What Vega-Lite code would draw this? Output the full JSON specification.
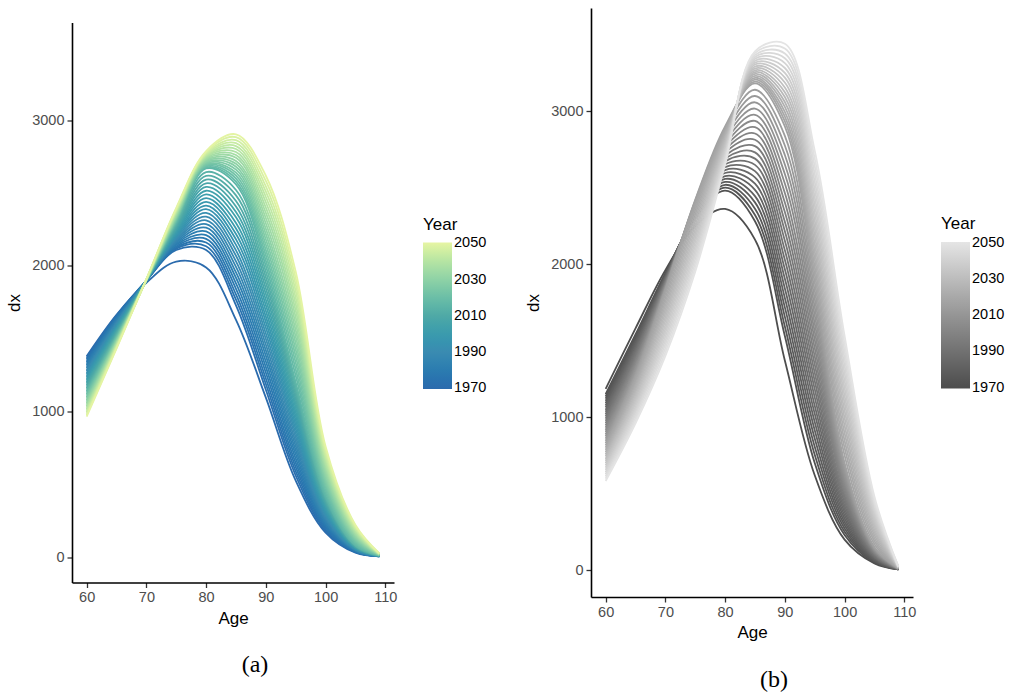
{
"$schema":"https://vega.github.io/schema/vega-lite/v6.json",
"background":"white",
"padding":{"left":5,"top":8,"right":5,"bottom":0},
"config":{"view":{"stroke":null},"font":"Liberation Sans",
"axis":{"domainColor":"#000000","domainWidth":1.6,"tickColor":"#333333","tickWidth":1.3,"tickSize":5,"labelColor":"#4d4d4d","labelFontSize":14.5,"labelFont":"Liberation Sans","labelPadding":3,"labelFlush":false,"titleColor":"#000000","titleFontSize":17,"titleFontWeight":"normal","titleFont":"Liberation Sans","titlePadding":6,"grid":false},
"axisY":{"titlePadding":8},
"legend":{"titleFontSize":17,"titleFontWeight":"normal","titleColor":"#000000","titleFont":"Liberation Sans","labelFont":"Liberation Sans","labelFontSize":14.5,"labelColor":"#000000","gradientLength":146.5,"gradientThickness":29,"gradientStrokeWidth":0,"labelOffset":11,"titlePadding":9,"labelOverlap":false},
"title":{"font":"Liberation Serif","fontSize":24,"fontWeight":"normal","color":"#000000","orient":"bottom","anchor":"middle","offset":27,"dx":22}},
"spacing":197,
"bounds":"flush",
"center":true,
"resolve":{"scale":{"color":"independent","x":"independent","y":"independent"},"legend":{"color":"independent"}},
"datasets":{
"a":[
{"year":1970,"age":60,"dx":1380},{"year":1970,"age":65,"dx":1665},{"year":1970,"age":70,"dx":1885},{"year":1970,"age":75,"dx":2030},{"year":1970,"age":80,"dx":1990},{"year":1970,"age":85,"dx":1630},{"year":1970,"age":90,"dx":1095},{"year":1970,"age":95,"dx":525},{"year":1970,"age":100,"dx":168},{"year":1970,"age":105,"dx":30},{"year":1970,"age":109,"dx":5},
{"year":1972,"age":60,"dx":1370},{"year":1972,"age":65,"dx":1660},{"year":1972,"age":70,"dx":1900},{"year":1972,"age":75,"dx":2110},{"year":1972,"age":80,"dx":2110},{"year":1972,"age":85,"dx":1730},{"year":1972,"age":90,"dx":1150},{"year":1972,"age":95,"dx":560},{"year":1972,"age":100,"dx":180},{"year":1972,"age":105,"dx":33},{"year":1972,"age":109,"dx":5},
{"year":1974,"age":60,"dx":1360},{"year":1974,"age":65,"dx":1654},{"year":1974,"age":70,"dx":1900},{"year":1974,"age":75,"dx":2119},{"year":1974,"age":80,"dx":2135},{"year":1974,"age":85,"dx":1768},{"year":1974,"age":90,"dx":1189},{"year":1974,"age":95,"dx":589},{"year":1974,"age":100,"dx":191},{"year":1974,"age":105,"dx":35},{"year":1974,"age":109,"dx":5},
{"year":1976,"age":60,"dx":1349},{"year":1976,"age":65,"dx":1647},{"year":1976,"age":70,"dx":1900},{"year":1976,"age":75,"dx":2127},{"year":1976,"age":80,"dx":2161},{"year":1976,"age":85,"dx":1805},{"year":1976,"age":90,"dx":1227},{"year":1976,"age":95,"dx":618},{"year":1976,"age":100,"dx":202},{"year":1976,"age":105,"dx":37},{"year":1976,"age":109,"dx":5},
{"year":1978,"age":60,"dx":1339},{"year":1978,"age":65,"dx":1641},{"year":1978,"age":70,"dx":1900},{"year":1978,"age":75,"dx":2136},{"year":1978,"age":80,"dx":2186},{"year":1978,"age":85,"dx":1843},{"year":1978,"age":90,"dx":1266},{"year":1978,"age":95,"dx":647},{"year":1978,"age":100,"dx":213},{"year":1978,"age":105,"dx":39},{"year":1978,"age":109,"dx":6},
{"year":1980,"age":60,"dx":1328},{"year":1980,"age":65,"dx":1635},{"year":1980,"age":70,"dx":1900},{"year":1980,"age":75,"dx":2145},{"year":1980,"age":80,"dx":2212},{"year":1980,"age":85,"dx":1881},{"year":1980,"age":90,"dx":1305},{"year":1980,"age":95,"dx":676},{"year":1980,"age":100,"dx":224},{"year":1980,"age":105,"dx":42},{"year":1980,"age":109,"dx":6},
{"year":1982,"age":60,"dx":1318},{"year":1982,"age":65,"dx":1628},{"year":1982,"age":70,"dx":1900},{"year":1982,"age":75,"dx":2153},{"year":1982,"age":80,"dx":2237},{"year":1982,"age":85,"dx":1919},{"year":1982,"age":90,"dx":1343},{"year":1982,"age":95,"dx":706},{"year":1982,"age":100,"dx":235},{"year":1982,"age":105,"dx":44},{"year":1982,"age":109,"dx":6},
{"year":1984,"age":60,"dx":1307},{"year":1984,"age":65,"dx":1622},{"year":1984,"age":70,"dx":1900},{"year":1984,"age":75,"dx":2162},{"year":1984,"age":80,"dx":2263},{"year":1984,"age":85,"dx":1956},{"year":1984,"age":90,"dx":1382},{"year":1984,"age":95,"dx":735},{"year":1984,"age":100,"dx":245},{"year":1984,"age":105,"dx":46},{"year":1984,"age":109,"dx":6},
{"year":1986,"age":60,"dx":1297},{"year":1986,"age":65,"dx":1615},{"year":1986,"age":70,"dx":1900},{"year":1986,"age":75,"dx":2170},{"year":1986,"age":80,"dx":2288},{"year":1986,"age":85,"dx":1994},{"year":1986,"age":90,"dx":1420},{"year":1986,"age":95,"dx":764},{"year":1986,"age":100,"dx":256},{"year":1986,"age":105,"dx":48},{"year":1986,"age":109,"dx":7},
{"year":1988,"age":60,"dx":1286},{"year":1988,"age":65,"dx":1609},{"year":1988,"age":70,"dx":1900},{"year":1988,"age":75,"dx":2179},{"year":1988,"age":80,"dx":2314},{"year":1988,"age":85,"dx":2032},{"year":1988,"age":90,"dx":1459},{"year":1988,"age":95,"dx":793},{"year":1988,"age":100,"dx":267},{"year":1988,"age":105,"dx":50},{"year":1988,"age":109,"dx":7},
{"year":1990,"age":60,"dx":1276},{"year":1990,"age":65,"dx":1603},{"year":1990,"age":70,"dx":1900},{"year":1990,"age":75,"dx":2188},{"year":1990,"age":80,"dx":2339},{"year":1990,"age":85,"dx":2070},{"year":1990,"age":90,"dx":1498},{"year":1990,"age":95,"dx":822},{"year":1990,"age":100,"dx":278},{"year":1990,"age":105,"dx":52},{"year":1990,"age":109,"dx":7},
{"year":1992,"age":60,"dx":1265},{"year":1992,"age":65,"dx":1596},{"year":1992,"age":70,"dx":1900},{"year":1992,"age":75,"dx":2196},{"year":1992,"age":80,"dx":2365},{"year":1992,"age":85,"dx":2107},{"year":1992,"age":90,"dx":1536},{"year":1992,"age":95,"dx":851},{"year":1992,"age":100,"dx":289},{"year":1992,"age":105,"dx":54},{"year":1992,"age":109,"dx":7},
{"year":1994,"age":60,"dx":1255},{"year":1994,"age":65,"dx":1590},{"year":1994,"age":70,"dx":1900},{"year":1994,"age":75,"dx":2205},{"year":1994,"age":80,"dx":2390},{"year":1994,"age":85,"dx":2145},{"year":1994,"age":90,"dx":1575},{"year":1994,"age":95,"dx":880},{"year":1994,"age":100,"dx":300},{"year":1994,"age":105,"dx":57},{"year":1994,"age":109,"dx":8},
{"year":1996,"age":60,"dx":1245},{"year":1996,"age":65,"dx":1584},{"year":1996,"age":70,"dx":1900},{"year":1996,"age":75,"dx":2214},{"year":1996,"age":80,"dx":2415},{"year":1996,"age":85,"dx":2183},{"year":1996,"age":90,"dx":1614},{"year":1996,"age":95,"dx":909},{"year":1996,"age":100,"dx":311},{"year":1996,"age":105,"dx":59},{"year":1996,"age":109,"dx":8},
{"year":1998,"age":60,"dx":1234},{"year":1998,"age":65,"dx":1577},{"year":1998,"age":70,"dx":1900},{"year":1998,"age":75,"dx":2222},{"year":1998,"age":80,"dx":2441},{"year":1998,"age":85,"dx":2220},{"year":1998,"age":90,"dx":1652},{"year":1998,"age":95,"dx":938},{"year":1998,"age":100,"dx":322},{"year":1998,"age":105,"dx":61},{"year":1998,"age":109,"dx":8},
{"year":2000,"age":60,"dx":1224},{"year":2000,"age":65,"dx":1571},{"year":2000,"age":70,"dx":1900},{"year":2000,"age":75,"dx":2231},{"year":2000,"age":80,"dx":2466},{"year":2000,"age":85,"dx":2258},{"year":2000,"age":90,"dx":1691},{"year":2000,"age":95,"dx":967},{"year":2000,"age":100,"dx":333},{"year":2000,"age":105,"dx":63},{"year":2000,"age":109,"dx":8},
{"year":2002,"age":60,"dx":1213},{"year":2002,"age":65,"dx":1565},{"year":2002,"age":70,"dx":1900},{"year":2002,"age":75,"dx":2240},{"year":2002,"age":80,"dx":2492},{"year":2002,"age":85,"dx":2296},{"year":2002,"age":90,"dx":1730},{"year":2002,"age":95,"dx":996},{"year":2002,"age":100,"dx":344},{"year":2002,"age":105,"dx":65},{"year":2002,"age":109,"dx":8},
{"year":2004,"age":60,"dx":1203},{"year":2004,"age":65,"dx":1558},{"year":2004,"age":70,"dx":1900},{"year":2004,"age":75,"dx":2248},{"year":2004,"age":80,"dx":2517},{"year":2004,"age":85,"dx":2334},{"year":2004,"age":90,"dx":1768},{"year":2004,"age":95,"dx":1026},{"year":2004,"age":100,"dx":355},{"year":2004,"age":105,"dx":67},{"year":2004,"age":109,"dx":9},
{"year":2006,"age":60,"dx":1192},{"year":2006,"age":65,"dx":1552},{"year":2006,"age":70,"dx":1900},{"year":2006,"age":75,"dx":2257},{"year":2006,"age":80,"dx":2543},{"year":2006,"age":85,"dx":2371},{"year":2006,"age":90,"dx":1807},{"year":2006,"age":95,"dx":1055},{"year":2006,"age":100,"dx":365},{"year":2006,"age":105,"dx":69},{"year":2006,"age":109,"dx":9},
{"year":2008,"age":60,"dx":1182},{"year":2008,"age":65,"dx":1545},{"year":2008,"age":70,"dx":1900},{"year":2008,"age":75,"dx":2265},{"year":2008,"age":80,"dx":2568},{"year":2008,"age":85,"dx":2409},{"year":2008,"age":90,"dx":1845},{"year":2008,"age":95,"dx":1084},{"year":2008,"age":100,"dx":376},{"year":2008,"age":105,"dx":71},{"year":2008,"age":109,"dx":9},
{"year":2010,"age":60,"dx":1171},{"year":2010,"age":65,"dx":1539},{"year":2010,"age":70,"dx":1900},{"year":2010,"age":75,"dx":2274},{"year":2010,"age":80,"dx":2594},{"year":2010,"age":85,"dx":2447},{"year":2010,"age":90,"dx":1884},{"year":2010,"age":95,"dx":1113},{"year":2010,"age":100,"dx":387},{"year":2010,"age":105,"dx":74},{"year":2010,"age":109,"dx":9},
{"year":2012,"age":60,"dx":1161},{"year":2012,"age":65,"dx":1533},{"year":2012,"age":70,"dx":1900},{"year":2012,"age":75,"dx":2283},{"year":2012,"age":80,"dx":2619},{"year":2012,"age":85,"dx":2485},{"year":2012,"age":90,"dx":1923},{"year":2012,"age":95,"dx":1142},{"year":2012,"age":100,"dx":398},{"year":2012,"age":105,"dx":76},{"year":2012,"age":109,"dx":10},
{"year":2014,"age":60,"dx":1150},{"year":2014,"age":65,"dx":1526},{"year":2014,"age":70,"dx":1900},{"year":2014,"age":75,"dx":2291},{"year":2014,"age":80,"dx":2645},{"year":2014,"age":85,"dx":2522},{"year":2014,"age":90,"dx":1961},{"year":2014,"age":95,"dx":1171},{"year":2014,"age":100,"dx":409},{"year":2014,"age":105,"dx":78},{"year":2014,"age":109,"dx":10},
{"year":2016,"age":60,"dx":1140},{"year":2016,"age":65,"dx":1520},{"year":2016,"age":70,"dx":1900},{"year":2016,"age":75,"dx":2300},{"year":2016,"age":80,"dx":2670},{"year":2016,"age":85,"dx":2560},{"year":2016,"age":90,"dx":2000},{"year":2016,"age":95,"dx":1200},{"year":2016,"age":100,"dx":420},{"year":2016,"age":105,"dx":80},{"year":2016,"age":109,"dx":10},
{"year":2018,"age":60,"dx":1130},{"year":2018,"age":65,"dx":1515},{"year":2018,"age":70,"dx":1901},{"year":2018,"age":75,"dx":2306},{"year":2018,"age":80,"dx":2677},{"year":2018,"age":85,"dx":2580},{"year":2018,"age":90,"dx":2036},{"year":2018,"age":95,"dx":1245},{"year":2018,"age":100,"dx":440},{"year":2018,"age":105,"dx":88},{"year":2018,"age":109,"dx":11},
{"year":2020,"age":60,"dx":1119},{"year":2020,"age":65,"dx":1510},{"year":2020,"age":70,"dx":1901},{"year":2020,"age":75,"dx":2312},{"year":2020,"age":80,"dx":2684},{"year":2020,"age":85,"dx":2601},{"year":2020,"age":90,"dx":2073},{"year":2020,"age":95,"dx":1289},{"year":2020,"age":100,"dx":460},{"year":2020,"age":105,"dx":96},{"year":2020,"age":109,"dx":12},
{"year":2022,"age":60,"dx":1109},{"year":2022,"age":65,"dx":1504},{"year":2022,"age":70,"dx":1902},{"year":2022,"age":75,"dx":2318},{"year":2022,"age":80,"dx":2691},{"year":2022,"age":85,"dx":2621},{"year":2022,"age":90,"dx":2109},{"year":2022,"age":95,"dx":1334},{"year":2022,"age":100,"dx":480},{"year":2022,"age":105,"dx":105},{"year":2022,"age":109,"dx":13},
{"year":2024,"age":60,"dx":1099},{"year":2024,"age":65,"dx":1499},{"year":2024,"age":70,"dx":1902},{"year":2024,"age":75,"dx":2324},{"year":2024,"age":80,"dx":2698},{"year":2024,"age":85,"dx":2641},{"year":2024,"age":90,"dx":2146},{"year":2024,"age":95,"dx":1379},{"year":2024,"age":100,"dx":500},{"year":2024,"age":105,"dx":113},{"year":2024,"age":109,"dx":14},
{"year":2026,"age":60,"dx":1089},{"year":2026,"age":65,"dx":1494},{"year":2026,"age":70,"dx":1903},{"year":2026,"age":75,"dx":2329},{"year":2026,"age":80,"dx":2705},{"year":2026,"age":85,"dx":2662},{"year":2026,"age":90,"dx":2182},{"year":2026,"age":95,"dx":1424},{"year":2026,"age":100,"dx":520},{"year":2026,"age":105,"dx":121},{"year":2026,"age":109,"dx":14},
{"year":2028,"age":60,"dx":1078},{"year":2028,"age":65,"dx":1489},{"year":2028,"age":70,"dx":1903},{"year":2028,"age":75,"dx":2335},{"year":2028,"age":80,"dx":2712},{"year":2028,"age":85,"dx":2682},{"year":2028,"age":90,"dx":2219},{"year":2028,"age":95,"dx":1468},{"year":2028,"age":100,"dx":540},{"year":2028,"age":105,"dx":129},{"year":2028,"age":109,"dx":15},
{"year":2030,"age":60,"dx":1068},{"year":2030,"age":65,"dx":1484},{"year":2030,"age":70,"dx":1904},{"year":2030,"age":75,"dx":2341},{"year":2030,"age":80,"dx":2719},{"year":2030,"age":85,"dx":2702},{"year":2030,"age":90,"dx":2255},{"year":2030,"age":95,"dx":1513},{"year":2030,"age":100,"dx":560},{"year":2030,"age":105,"dx":138},{"year":2030,"age":109,"dx":16},
{"year":2032,"age":60,"dx":1058},{"year":2032,"age":65,"dx":1479},{"year":2032,"age":70,"dx":1904},{"year":2032,"age":75,"dx":2347},{"year":2032,"age":80,"dx":2727},{"year":2032,"age":85,"dx":2722},{"year":2032,"age":90,"dx":2292},{"year":2032,"age":95,"dx":1558},{"year":2032,"age":100,"dx":580},{"year":2032,"age":105,"dx":146},{"year":2032,"age":109,"dx":17},
{"year":2034,"age":60,"dx":1047},{"year":2034,"age":65,"dx":1473},{"year":2034,"age":70,"dx":1905},{"year":2034,"age":75,"dx":2353},{"year":2034,"age":80,"dx":2734},{"year":2034,"age":85,"dx":2743},{"year":2034,"age":90,"dx":2328},{"year":2034,"age":95,"dx":1602},{"year":2034,"age":100,"dx":600},{"year":2034,"age":105,"dx":154},{"year":2034,"age":109,"dx":18},
{"year":2036,"age":60,"dx":1037},{"year":2036,"age":65,"dx":1468},{"year":2036,"age":70,"dx":1905},{"year":2036,"age":75,"dx":2359},{"year":2036,"age":80,"dx":2741},{"year":2036,"age":85,"dx":2763},{"year":2036,"age":90,"dx":2365},{"year":2036,"age":95,"dx":1647},{"year":2036,"age":100,"dx":620},{"year":2036,"age":105,"dx":162},{"year":2036,"age":109,"dx":19},
{"year":2038,"age":60,"dx":1027},{"year":2038,"age":65,"dx":1463},{"year":2038,"age":70,"dx":1906},{"year":2038,"age":75,"dx":2365},{"year":2038,"age":80,"dx":2748},{"year":2038,"age":85,"dx":2783},{"year":2038,"age":90,"dx":2401},{"year":2038,"age":95,"dx":1692},{"year":2038,"age":100,"dx":640},{"year":2038,"age":105,"dx":171},{"year":2038,"age":109,"dx":20},
{"year":2040,"age":60,"dx":1017},{"year":2040,"age":65,"dx":1458},{"year":2040,"age":70,"dx":1906},{"year":2040,"age":75,"dx":2371},{"year":2040,"age":80,"dx":2755},{"year":2040,"age":85,"dx":2804},{"year":2040,"age":90,"dx":2438},{"year":2040,"age":95,"dx":1737},{"year":2040,"age":100,"dx":660},{"year":2040,"age":105,"dx":179},{"year":2040,"age":109,"dx":21},
{"year":2042,"age":60,"dx":1006},{"year":2042,"age":65,"dx":1453},{"year":2042,"age":70,"dx":1907},{"year":2042,"age":75,"dx":2377},{"year":2042,"age":80,"dx":2762},{"year":2042,"age":85,"dx":2824},{"year":2042,"age":90,"dx":2474},{"year":2042,"age":95,"dx":1781},{"year":2042,"age":100,"dx":680},{"year":2042,"age":105,"dx":187},{"year":2042,"age":109,"dx":22},
{"year":2044,"age":60,"dx":996},{"year":2044,"age":65,"dx":1448},{"year":2044,"age":70,"dx":1907},{"year":2044,"age":75,"dx":2382},{"year":2044,"age":80,"dx":2769},{"year":2044,"age":85,"dx":2844},{"year":2044,"age":90,"dx":2511},{"year":2044,"age":95,"dx":1826},{"year":2044,"age":100,"dx":700},{"year":2044,"age":105,"dx":195},{"year":2044,"age":109,"dx":22},
{"year":2046,"age":60,"dx":986},{"year":2046,"age":65,"dx":1442},{"year":2046,"age":70,"dx":1908},{"year":2046,"age":75,"dx":2388},{"year":2046,"age":80,"dx":2776},{"year":2046,"age":85,"dx":2864},{"year":2046,"age":90,"dx":2547},{"year":2046,"age":95,"dx":1871},{"year":2046,"age":100,"dx":720},{"year":2046,"age":105,"dx":204},{"year":2046,"age":109,"dx":23},
{"year":2048,"age":60,"dx":975},{"year":2048,"age":65,"dx":1437},{"year":2048,"age":70,"dx":1909},{"year":2048,"age":75,"dx":2394},{"year":2048,"age":80,"dx":2783},{"year":2048,"age":85,"dx":2885},{"year":2048,"age":90,"dx":2584},{"year":2048,"age":95,"dx":1915},{"year":2048,"age":100,"dx":740},{"year":2048,"age":105,"dx":212},{"year":2048,"age":109,"dx":24},
{"year":2050,"age":60,"dx":965},{"year":2050,"age":65,"dx":1432},{"year":2050,"age":70,"dx":1909},{"year":2050,"age":75,"dx":2400},{"year":2050,"age":80,"dx":2790},{"year":2050,"age":85,"dx":2905},{"year":2050,"age":90,"dx":2620},{"year":2050,"age":95,"dx":1960},{"year":2050,"age":100,"dx":760},{"year":2050,"age":105,"dx":220},{"year":2050,"age":109,"dx":25}
],
"b":[
{"year":1970,"age":60,"dx":1185},{"year":1970,"age":65,"dx":1580},{"year":1970,"age":70,"dx":1960},{"year":1970,"age":75,"dx":2250},{"year":1970,"age":80,"dx":2360},{"year":1970,"age":85,"dx":2160},{"year":1970,"age":90,"dx":1370},{"year":1970,"age":95,"dx":620},{"year":1970,"age":100,"dx":200},{"year":1970,"age":105,"dx":45},{"year":1970,"age":109,"dx":5},
{"year":1972,"age":60,"dx":1150},{"year":1972,"age":65,"dx":1540},{"year":1972,"age":70,"dx":1940},{"year":1972,"age":75,"dx":2300},{"year":1972,"age":80,"dx":2480},{"year":1972,"age":85,"dx":2280},{"year":1972,"age":90,"dx":1530},{"year":1972,"age":95,"dx":700},{"year":1972,"age":100,"dx":230},{"year":1972,"age":105,"dx":50},{"year":1972,"age":109,"dx":5},
{"year":1974,"age":60,"dx":1135},{"year":1974,"age":65,"dx":1528},{"year":1974,"age":70,"dx":1935},{"year":1974,"age":75,"dx":2305},{"year":1974,"age":80,"dx":2499},{"year":1974,"age":85,"dx":2321},{"year":1974,"age":90,"dx":1592},{"year":1974,"age":95,"dx":754},{"year":1974,"age":100,"dx":251},{"year":1974,"age":105,"dx":55},{"year":1974,"age":109,"dx":5},
{"year":1976,"age":60,"dx":1121},{"year":1976,"age":65,"dx":1515},{"year":1976,"age":70,"dx":1930},{"year":1976,"age":75,"dx":2311},{"year":1976,"age":80,"dx":2518},{"year":1976,"age":85,"dx":2362},{"year":1976,"age":90,"dx":1655},{"year":1976,"age":95,"dx":807},{"year":1976,"age":100,"dx":273},{"year":1976,"age":105,"dx":59},{"year":1976,"age":109,"dx":6},
{"year":1978,"age":60,"dx":1106},{"year":1978,"age":65,"dx":1503},{"year":1978,"age":70,"dx":1925},{"year":1978,"age":75,"dx":2316},{"year":1978,"age":80,"dx":2537},{"year":1978,"age":85,"dx":2403},{"year":1978,"age":90,"dx":1717},{"year":1978,"age":95,"dx":861},{"year":1978,"age":100,"dx":294},{"year":1978,"age":105,"dx":64},{"year":1978,"age":109,"dx":6},
{"year":1980,"age":60,"dx":1092},{"year":1980,"age":65,"dx":1491},{"year":1980,"age":70,"dx":1920},{"year":1980,"age":75,"dx":2322},{"year":1980,"age":80,"dx":2556},{"year":1980,"age":85,"dx":2444},{"year":1980,"age":90,"dx":1779},{"year":1980,"age":95,"dx":915},{"year":1980,"age":100,"dx":315},{"year":1980,"age":105,"dx":68},{"year":1980,"age":109,"dx":6},
{"year":1982,"age":60,"dx":1077},{"year":1982,"age":65,"dx":1479},{"year":1982,"age":70,"dx":1915},{"year":1982,"age":75,"dx":2327},{"year":1982,"age":80,"dx":2575},{"year":1982,"age":85,"dx":2485},{"year":1982,"age":90,"dx":1841},{"year":1982,"age":95,"dx":968},{"year":1982,"age":100,"dx":337},{"year":1982,"age":105,"dx":73},{"year":1982,"age":109,"dx":7},
{"year":1984,"age":60,"dx":1063},{"year":1984,"age":65,"dx":1466},{"year":1984,"age":70,"dx":1910},{"year":1984,"age":75,"dx":2333},{"year":1984,"age":80,"dx":2595},{"year":1984,"age":85,"dx":2525},{"year":1984,"age":90,"dx":1904},{"year":1984,"age":95,"dx":1022},{"year":1984,"age":100,"dx":358},{"year":1984,"age":105,"dx":77},{"year":1984,"age":109,"dx":7},
{"year":1986,"age":60,"dx":1048},{"year":1986,"age":65,"dx":1454},{"year":1986,"age":70,"dx":1905},{"year":1986,"age":75,"dx":2338},{"year":1986,"age":80,"dx":2614},{"year":1986,"age":85,"dx":2566},{"year":1986,"age":90,"dx":1966},{"year":1986,"age":95,"dx":1075},{"year":1986,"age":100,"dx":380},{"year":1986,"age":105,"dx":82},{"year":1986,"age":109,"dx":7},
{"year":1988,"age":60,"dx":1034},{"year":1988,"age":65,"dx":1442},{"year":1988,"age":70,"dx":1900},{"year":1988,"age":75,"dx":2344},{"year":1988,"age":80,"dx":2633},{"year":1988,"age":85,"dx":2607},{"year":1988,"age":90,"dx":2028},{"year":1988,"age":95,"dx":1129},{"year":1988,"age":100,"dx":401},{"year":1988,"age":105,"dx":86},{"year":1988,"age":109,"dx":8},
{"year":1990,"age":60,"dx":1019},{"year":1990,"age":65,"dx":1430},{"year":1990,"age":70,"dx":1895},{"year":1990,"age":75,"dx":2349},{"year":1990,"age":80,"dx":2652},{"year":1990,"age":85,"dx":2648},{"year":1990,"age":90,"dx":2090},{"year":1990,"age":95,"dx":1183},{"year":1990,"age":100,"dx":422},{"year":1990,"age":105,"dx":91},{"year":1990,"age":109,"dx":8},
{"year":1992,"age":60,"dx":1005},{"year":1992,"age":65,"dx":1417},{"year":1992,"age":70,"dx":1890},{"year":1992,"age":75,"dx":2355},{"year":1992,"age":80,"dx":2671},{"year":1992,"age":85,"dx":2689},{"year":1992,"age":90,"dx":2153},{"year":1992,"age":95,"dx":1236},{"year":1992,"age":100,"dx":444},{"year":1992,"age":105,"dx":95},{"year":1992,"age":109,"dx":8},
{"year":1994,"age":60,"dx":990},{"year":1994,"age":65,"dx":1405},{"year":1994,"age":70,"dx":1885},{"year":1994,"age":75,"dx":2360},{"year":1994,"age":80,"dx":2690},{"year":1994,"age":85,"dx":2730},{"year":1994,"age":90,"dx":2215},{"year":1994,"age":95,"dx":1290},{"year":1994,"age":100,"dx":465},{"year":1994,"age":105,"dx":100},{"year":1994,"age":109,"dx":9},
{"year":1996,"age":60,"dx":975},{"year":1996,"age":65,"dx":1393},{"year":1996,"age":70,"dx":1880},{"year":1996,"age":75,"dx":2365},{"year":1996,"age":80,"dx":2709},{"year":1996,"age":85,"dx":2771},{"year":1996,"age":90,"dx":2277},{"year":1996,"age":95,"dx":1344},{"year":1996,"age":100,"dx":486},{"year":1996,"age":105,"dx":105},{"year":1996,"age":109,"dx":9},
{"year":1998,"age":60,"dx":961},{"year":1998,"age":65,"dx":1380},{"year":1998,"age":70,"dx":1875},{"year":1998,"age":75,"dx":2371},{"year":1998,"age":80,"dx":2728},{"year":1998,"age":85,"dx":2812},{"year":1998,"age":90,"dx":2340},{"year":1998,"age":95,"dx":1397},{"year":1998,"age":100,"dx":508},{"year":1998,"age":105,"dx":109},{"year":1998,"age":109,"dx":9},
{"year":2000,"age":60,"dx":946},{"year":2000,"age":65,"dx":1368},{"year":2000,"age":70,"dx":1870},{"year":2000,"age":75,"dx":2376},{"year":2000,"age":80,"dx":2747},{"year":2000,"age":85,"dx":2853},{"year":2000,"age":90,"dx":2402},{"year":2000,"age":95,"dx":1451},{"year":2000,"age":100,"dx":529},{"year":2000,"age":105,"dx":114},{"year":2000,"age":109,"dx":9},
{"year":2002,"age":60,"dx":932},{"year":2002,"age":65,"dx":1356},{"year":2002,"age":70,"dx":1865},{"year":2002,"age":75,"dx":2382},{"year":2002,"age":80,"dx":2766},{"year":2002,"age":85,"dx":2894},{"year":2002,"age":90,"dx":2464},{"year":2002,"age":95,"dx":1505},{"year":2002,"age":100,"dx":550},{"year":2002,"age":105,"dx":118},{"year":2002,"age":109,"dx":10},
{"year":2004,"age":60,"dx":917},{"year":2004,"age":65,"dx":1344},{"year":2004,"age":70,"dx":1860},{"year":2004,"age":75,"dx":2387},{"year":2004,"age":80,"dx":2785},{"year":2004,"age":85,"dx":2935},{"year":2004,"age":90,"dx":2526},{"year":2004,"age":95,"dx":1558},{"year":2004,"age":100,"dx":572},{"year":2004,"age":105,"dx":123},{"year":2004,"age":109,"dx":10},
{"year":2006,"age":60,"dx":903},{"year":2006,"age":65,"dx":1331},{"year":2006,"age":70,"dx":1855},{"year":2006,"age":75,"dx":2393},{"year":2006,"age":80,"dx":2805},{"year":2006,"age":85,"dx":2975},{"year":2006,"age":90,"dx":2589},{"year":2006,"age":95,"dx":1612},{"year":2006,"age":100,"dx":593},{"year":2006,"age":105,"dx":127},{"year":2006,"age":109,"dx":10},
{"year":2008,"age":60,"dx":888},{"year":2008,"age":65,"dx":1319},{"year":2008,"age":70,"dx":1850},{"year":2008,"age":75,"dx":2398},{"year":2008,"age":80,"dx":2824},{"year":2008,"age":85,"dx":3016},{"year":2008,"age":90,"dx":2651},{"year":2008,"age":95,"dx":1665},{"year":2008,"age":100,"dx":615},{"year":2008,"age":105,"dx":132},{"year":2008,"age":109,"dx":11},
{"year":2010,"age":60,"dx":874},{"year":2010,"age":65,"dx":1307},{"year":2010,"age":70,"dx":1845},{"year":2010,"age":75,"dx":2404},{"year":2010,"age":80,"dx":2843},{"year":2010,"age":85,"dx":3057},{"year":2010,"age":90,"dx":2713},{"year":2010,"age":95,"dx":1719},{"year":2010,"age":100,"dx":636},{"year":2010,"age":105,"dx":136},{"year":2010,"age":109,"dx":11},
{"year":2012,"age":60,"dx":859},{"year":2012,"age":65,"dx":1295},{"year":2012,"age":70,"dx":1840},{"year":2012,"age":75,"dx":2409},{"year":2012,"age":80,"dx":2862},{"year":2012,"age":85,"dx":3098},{"year":2012,"age":90,"dx":2775},{"year":2012,"age":95,"dx":1773},{"year":2012,"age":100,"dx":657},{"year":2012,"age":105,"dx":141},{"year":2012,"age":109,"dx":11},
{"year":2014,"age":60,"dx":845},{"year":2014,"age":65,"dx":1282},{"year":2014,"age":70,"dx":1835},{"year":2014,"age":75,"dx":2415},{"year":2014,"age":80,"dx":2881},{"year":2014,"age":85,"dx":3139},{"year":2014,"age":90,"dx":2838},{"year":2014,"age":95,"dx":1826},{"year":2014,"age":100,"dx":679},{"year":2014,"age":105,"dx":145},{"year":2014,"age":109,"dx":12},
{"year":2016,"age":60,"dx":830},{"year":2016,"age":65,"dx":1270},{"year":2016,"age":70,"dx":1830},{"year":2016,"age":75,"dx":2420},{"year":2016,"age":80,"dx":2900},{"year":2016,"age":85,"dx":3180},{"year":2016,"age":90,"dx":2900},{"year":2016,"age":95,"dx":1880},{"year":2016,"age":100,"dx":700},{"year":2016,"age":105,"dx":150},{"year":2016,"age":109,"dx":12},
{"year":2018,"age":60,"dx":815},{"year":2018,"age":65,"dx":1252},{"year":2018,"age":70,"dx":1805},{"year":2018,"age":75,"dx":2392},{"year":2018,"age":80,"dx":2885},{"year":2018,"age":85,"dx":3192},{"year":2018,"age":90,"dx":2932},{"year":2018,"age":95,"dx":1931},{"year":2018,"age":100,"dx":749},{"year":2018,"age":105,"dx":169},{"year":2018,"age":109,"dx":13},
{"year":2020,"age":60,"dx":801},{"year":2020,"age":65,"dx":1234},{"year":2020,"age":70,"dx":1779},{"year":2020,"age":75,"dx":2365},{"year":2020,"age":80,"dx":2871},{"year":2020,"age":85,"dx":3205},{"year":2020,"age":90,"dx":2964},{"year":2020,"age":95,"dx":1981},{"year":2020,"age":100,"dx":798},{"year":2020,"age":105,"dx":189},{"year":2020,"age":109,"dx":14},
{"year":2022,"age":60,"dx":786},{"year":2022,"age":65,"dx":1215},{"year":2022,"age":70,"dx":1754},{"year":2022,"age":75,"dx":2337},{"year":2022,"age":80,"dx":2856},{"year":2022,"age":85,"dx":3217},{"year":2022,"age":90,"dx":2995},{"year":2022,"age":95,"dx":2032},{"year":2022,"age":100,"dx":846},{"year":2022,"age":105,"dx":208},{"year":2022,"age":109,"dx":14},
{"year":2024,"age":60,"dx":772},{"year":2024,"age":65,"dx":1197},{"year":2024,"age":70,"dx":1729},{"year":2024,"age":75,"dx":2309},{"year":2024,"age":80,"dx":2841},{"year":2024,"age":85,"dx":3229},{"year":2024,"age":90,"dx":3027},{"year":2024,"age":95,"dx":2082},{"year":2024,"age":100,"dx":895},{"year":2024,"age":105,"dx":228},{"year":2024,"age":109,"dx":15},
{"year":2026,"age":60,"dx":757},{"year":2026,"age":65,"dx":1179},{"year":2026,"age":70,"dx":1704},{"year":2026,"age":75,"dx":2282},{"year":2026,"age":80,"dx":2826},{"year":2026,"age":85,"dx":3242},{"year":2026,"age":90,"dx":3059},{"year":2026,"age":95,"dx":2133},{"year":2026,"age":100,"dx":944},{"year":2026,"age":105,"dx":247},{"year":2026,"age":109,"dx":16},
{"year":2028,"age":60,"dx":743},{"year":2028,"age":65,"dx":1161},{"year":2028,"age":70,"dx":1678},{"year":2028,"age":75,"dx":2254},{"year":2028,"age":80,"dx":2812},{"year":2028,"age":85,"dx":3254},{"year":2028,"age":90,"dx":3091},{"year":2028,"age":95,"dx":2184},{"year":2028,"age":100,"dx":993},{"year":2028,"age":105,"dx":266},{"year":2028,"age":109,"dx":17},
{"year":2030,"age":60,"dx":728},{"year":2030,"age":65,"dx":1142},{"year":2030,"age":70,"dx":1653},{"year":2030,"age":75,"dx":2226},{"year":2030,"age":80,"dx":2797},{"year":2030,"age":85,"dx":3266},{"year":2030,"age":90,"dx":3122},{"year":2030,"age":95,"dx":2234},{"year":2030,"age":100,"dx":1042},{"year":2030,"age":105,"dx":286},{"year":2030,"age":109,"dx":17},
{"year":2032,"age":60,"dx":714},{"year":2032,"age":65,"dx":1124},{"year":2032,"age":70,"dx":1628},{"year":2032,"age":75,"dx":2199},{"year":2032,"age":80,"dx":2782},{"year":2032,"age":85,"dx":3279},{"year":2032,"age":90,"dx":3154},{"year":2032,"age":95,"dx":2285},{"year":2032,"age":100,"dx":1091},{"year":2032,"age":105,"dx":305},{"year":2032,"age":109,"dx":18},
{"year":2034,"age":60,"dx":699},{"year":2034,"age":65,"dx":1106},{"year":2034,"age":70,"dx":1602},{"year":2034,"age":75,"dx":2171},{"year":2034,"age":80,"dx":2768},{"year":2034,"age":85,"dx":3291},{"year":2034,"age":90,"dx":3186},{"year":2034,"age":95,"dx":2335},{"year":2034,"age":100,"dx":1139},{"year":2034,"age":105,"dx":325},{"year":2034,"age":109,"dx":19},
{"year":2036,"age":60,"dx":685},{"year":2036,"age":65,"dx":1088},{"year":2036,"age":70,"dx":1577},{"year":2036,"age":75,"dx":2144},{"year":2036,"age":80,"dx":2753},{"year":2036,"age":85,"dx":3304},{"year":2036,"age":90,"dx":3218},{"year":2036,"age":95,"dx":2386},{"year":2036,"age":100,"dx":1188},{"year":2036,"age":105,"dx":344},{"year":2036,"age":109,"dx":20},
{"year":2038,"age":60,"dx":670},{"year":2038,"age":65,"dx":1069},{"year":2038,"age":70,"dx":1552},{"year":2038,"age":75,"dx":2116},{"year":2038,"age":80,"dx":2738},{"year":2038,"age":85,"dx":3316},{"year":2038,"age":90,"dx":3249},{"year":2038,"age":95,"dx":2436},{"year":2038,"age":100,"dx":1237},{"year":2038,"age":105,"dx":364},{"year":2038,"age":109,"dx":20},
{"year":2040,"age":60,"dx":656},{"year":2040,"age":65,"dx":1051},{"year":2040,"age":70,"dx":1526},{"year":2040,"age":75,"dx":2088},{"year":2040,"age":80,"dx":2724},{"year":2040,"age":85,"dx":3328},{"year":2040,"age":90,"dx":3281},{"year":2040,"age":95,"dx":2487},{"year":2040,"age":100,"dx":1286},{"year":2040,"age":105,"dx":383},{"year":2040,"age":109,"dx":21},
{"year":2042,"age":60,"dx":641},{"year":2042,"age":65,"dx":1033},{"year":2042,"age":70,"dx":1501},{"year":2042,"age":75,"dx":2061},{"year":2042,"age":80,"dx":2709},{"year":2042,"age":85,"dx":3341},{"year":2042,"age":90,"dx":3313},{"year":2042,"age":95,"dx":2538},{"year":2042,"age":100,"dx":1335},{"year":2042,"age":105,"dx":402},{"year":2042,"age":109,"dx":22},
{"year":2044,"age":60,"dx":627},{"year":2044,"age":65,"dx":1015},{"year":2044,"age":70,"dx":1476},{"year":2044,"age":75,"dx":2033},{"year":2044,"age":80,"dx":2694},{"year":2044,"age":85,"dx":3353},{"year":2044,"age":90,"dx":3345},{"year":2044,"age":95,"dx":2588},{"year":2044,"age":100,"dx":1384},{"year":2044,"age":105,"dx":422},{"year":2044,"age":109,"dx":23},
{"year":2046,"age":60,"dx":612},{"year":2046,"age":65,"dx":996},{"year":2046,"age":70,"dx":1451},{"year":2046,"age":75,"dx":2005},{"year":2046,"age":80,"dx":2679},{"year":2046,"age":85,"dx":3365},{"year":2046,"age":90,"dx":3376},{"year":2046,"age":95,"dx":2639},{"year":2046,"age":100,"dx":1432},{"year":2046,"age":105,"dx":441},{"year":2046,"age":109,"dx":23},
{"year":2048,"age":60,"dx":598},{"year":2048,"age":65,"dx":978},{"year":2048,"age":70,"dx":1425},{"year":2048,"age":75,"dx":1978},{"year":2048,"age":80,"dx":2665},{"year":2048,"age":85,"dx":3378},{"year":2048,"age":90,"dx":3408},{"year":2048,"age":95,"dx":2689},{"year":2048,"age":100,"dx":1481},{"year":2048,"age":105,"dx":461},{"year":2048,"age":109,"dx":24},
{"year":2050,"age":60,"dx":583},{"year":2050,"age":65,"dx":960},{"year":2050,"age":70,"dx":1400},{"year":2050,"age":75,"dx":1950},{"year":2050,"age":80,"dx":2650},{"year":2050,"age":85,"dx":3390},{"year":2050,"age":90,"dx":3440},{"year":2050,"age":95,"dx":2740},{"year":2050,"age":100,"dx":1530},{"year":2050,"age":105,"dx":480},{"year":2050,"age":109,"dx":25}
]},
"hconcat":[
{"width":322,"height":560,"data":{"name":"a"},"title":{"text":"(a)"},
"mark":{"type":"line","strokeWidth":1.8,"interpolate":"catmull-rom"},
"encoding":{
"x":{"field":"age","type":"quantitative","scale":{"domain":[57.55,111.45],"nice":false,"zero":false},"axis":{"values":[60,70,80,90,100,110],"title":"Age"}},
"y":{"field":"dx","type":"quantitative","scale":{"domain":[-175,3673],"nice":false,"zero":false},"axis":{"values":[0,1000,2000,3000],"format":"d","title":"dx"}},
"color":{"field":"year","type":"quantitative","scale":{"domain":[1969.5,2050.5],"range":["#2b6aad","#3a8bb1","#4fa9a6","#8fd2a6","#e6f5a3"]},"legend":{"title":"Year","orient":"none","legendX":351,"legendY":194,"values":[1970,1990,2010,2030,2050],"format":"d","direction":"vertical"}},
"detail":{"field":"year","type":"nominal"}}},
{"width":322,"height":589,"data":{"name":"b"},"title":{"text":"(b)"},
"mark":{"type":"line","strokeWidth":1.8,"interpolate":"catmull-rom"},
"encoding":{
"x":{"field":"age","type":"quantitative","scale":{"domain":[57.55,111.45],"nice":false,"zero":false},"axis":{"values":[60,70,80,90,100,110],"title":"Age"}},
"y":{"field":"dx","type":"quantitative","scale":{"domain":[-175,3673],"nice":false,"zero":false},"axis":{"values":[0,1000,2000,3000],"format":"d","title":"dx"}},
"color":{"field":"year","type":"quantitative","scale":{"domain":[1969.5,2050.5],"range":["#4d4d4d","#e5e5e5"]},"legend":{"title":"Year","orient":"none","legendX":350,"legendY":208,"values":[1970,1990,2010,2030,2050],"format":"d","direction":"vertical"}},
"detail":{"field":"year","type":"nominal"}}}
]
}
